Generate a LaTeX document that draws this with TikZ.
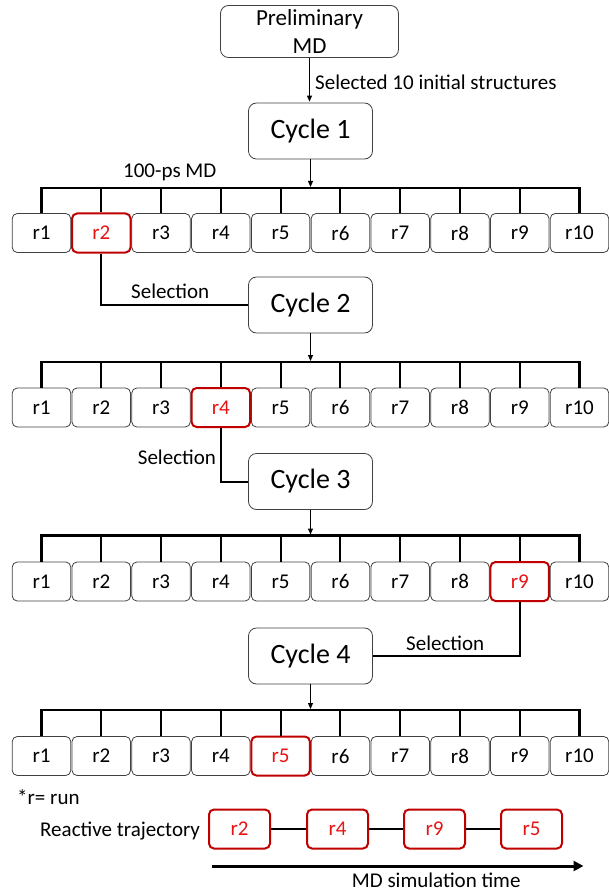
\documentclass[tikz,border=0pt]{standalone}
\usepackage{fontspec}
\setmainfont{Carlito}
\usetikzlibrary{arrows.meta,calc}
\definecolor{selred}{RGB}{192,0,0}
\definecolor{txtred}{RGB}{230,20,20}
\definecolor{boxgray}{RGB}{64,64,64}
\begin{document}
\begin{tikzpicture}[x=1pt,y=-1pt,
  run/.style={draw=boxgray, line width=0.8pt, rounded corners=5pt, minimum width=58.5pt, minimum height=39pt, inner sep=0pt, font=\fontsize{21}{25}\selectfont},
  selrun/.style={run, draw=selred, line width=2pt, text=txtred},
  cyc/.style={draw=boxgray, line width=0.8pt, rounded corners=8pt, minimum width=124pt, minimum height=56pt, inner sep=0pt, font=\fontsize{28}{32}\selectfont},
  lbl/.style={anchor=base west, inner sep=0pt, font=\fontsize{21}{25}\selectfont},
  barline/.style={line width=2.2pt, line join=miter},
  thinarrow/.style={line width=1pt, -{Triangle[length=6pt,width=5pt]}, shorten >=1pt},
  selline/.style={line width=2pt, line join=miter}]
\useasboundingbox (0,0) rectangle (609,893);

% top
\node[draw=boxgray, line width=0.8pt, rounded corners=8pt, minimum width=178pt, minimum height=52pt, inner sep=0pt, align=center, font=\fontsize{23}{28}\selectfont] (P) at (309.5,31.5) {Preliminary\\MD};

% cycles
\node[cyc] (C1) at (310.5,131) {Cycle 1};
\node[cyc] (C2) at (310.5,305) {Cycle 2};
\node[cyc] (C3) at (310.5,481.5) {Cycle 3};
\node[cyc] (C4) at (310.5,656) {Cycle 4};

% rows of runs
\foreach \row/\yc/\yb/\s in {1/233/188/2, 2/407.5/362/4, 3/581.5/535.5/9, 4/756/710/5} {
  \foreach \i in {1,...,10} {
    \pgfmathsetmacro\xc{41.5+59.78*(\i-1)}
    \ifnum\i=\s\relax
      \node[selrun] (R\row-\i) at (\xc,\yc) {r\i};
    \else
      \node[run] (R\row-\i) at (\xc,\yc) {r\i};
    \fi
    \coordinate (T\row-\i) at (\xc,\yb);
  }
  \draw[barline] (R\row-1.north) -- (T\row-1) -- (T\row-10) -- (R\row-10.north);
  \foreach \i in {2,...,9} {
    \draw[line width=2pt] (T\row-\i) -- (R\row-\i.north);
  }
}

% arrows
\draw[thinarrow] (P.south) -- (P.south |- C1.north);
\draw[thinarrow] (C1.south) -- (C1.south |- T1-1);
\draw[thinarrow] (C2.south) -- (C2.south |- T2-1);
\draw[thinarrow] (C3.south) -- (C3.south |- T3-1);
\draw[thinarrow] (C4.south) -- (C4.south |- T4-1);

% selections
\draw[selline] (R1-2.south) |- (C2.west);
\draw[selline] (R2-4.south) |- (C3.west);
\draw[selline] (R3-9.south) |- (C4.east);

% labels
\node[lbl] (L0) at (315,90) {Selected 10 initial structures};
\node[lbl] (L1) at (123,177.7) {100-ps MD};
\node[lbl] (S1) at (131,298.3) {Selection};
\node[lbl] (S2) at (137.7,464) {Selection};
\node[lbl] (S3) at (406,650) {Selection};
\node[lbl] (N) at (17,804) {*r= run};
\node[lbl] (RT) at (40,836) {Reactive trajectory};

% reactive trajectory
\node[selrun, minimum width=61pt] (F1) at (239.5,829) {r2};
\node[selrun, minimum width=61pt] (F2) at (337.5,829) {r4};
\node[selrun, minimum width=61pt] (F3) at (434.5,829) {r9};
\node[selrun, minimum width=61pt] (F4) at (531.5,829) {r5};
\draw[line width=2pt] (F1) -- (F2);
\draw[line width=2pt] (F2) -- (F3);
\draw[line width=2pt] (F3) -- (F4);

% time arrow
\coordinate (TA) at (211.7,866);
\coordinate (TB) at (583.5,866);
\draw[line width=3pt, -{Triangle[length=10pt,width=10pt]}] (TA) -- (TB);
\node[lbl] (MT) at (351.7,887.5) {MD simulation time};
\end{tikzpicture}
\end{document}
